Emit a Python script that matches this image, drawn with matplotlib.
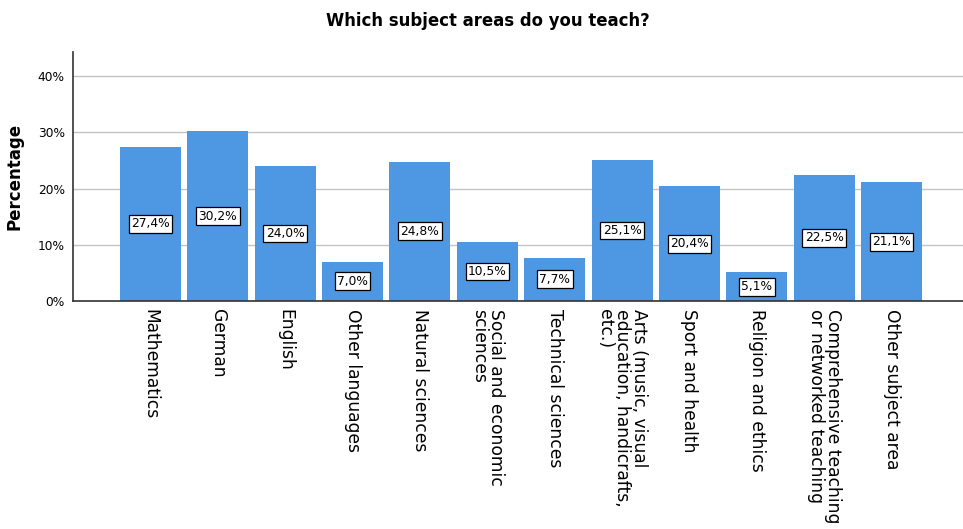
import matplotlib.pyplot as plt
import numpy as np

# Data ------------------------------------------------------------------------

subjects = [
    'Mathematics',
    'German',
    'English',
    'Other languages',
    'Natural sciences',
    'Social and economic\nsciences',
    'Technical sciences',
    'Arts (music, visual\neducation, handicrafts,\netc.)',
    'Sport and health',
    'Religion and ethics',
    'Comprehensive teaching\nor networked teaching',
    'Other subject area',
]
percent = [27.4, 30.2, 24.0, 7.0, 24.8, 10.5, 7.7, 25.1, 20.4, 5.1, 22.5, 21.1]
y_ticks = [0, 10, 20, 30, 40]

BAR_COLOR = '#4d97e3'

# Plot ------------------------------------------------------------------------

fig = plt.figure(figsize=(9.63, 5.29), dpi=100)
ax = fig.add_axes([0.0758, 0.431, 0.9242, 0.4707])

x = np.arange(len(subjects))
bars = ax.bar(x, percent, width=0.905, color=BAR_COLOR, zorder=2)

# value labels in white boxes at half bar height
for xi, val in zip(x, percent):
    ax.text(xi, val / 2, f'{val:.1f}%'.replace('.', ','),
            ha='center', va='center', fontsize=8.8, zorder=3,
            bbox=dict(boxstyle='square,pad=0.2', fc='white', ec='black', lw=0.9))

ax.set_xlim(-1.15, 12.06)
ax.set_ylim(0, 44.3)
ax.set_yticks(y_ticks)
ax.set_yticklabels([f'{t}%' for t in y_ticks], fontsize=8.8)
ax.yaxis.grid(True, color='#c4c4c4', lw=1.0, zorder=0)
ax.tick_params(axis='both', length=0, pad=6)

ax.set_xticks(x)
ax.set_xticklabels(subjects, rotation=-90, fontsize=12.3, va='top',
                   ha='center', multialignment='left', linespacing=0.95)

for side in ['top', 'right']:
    ax.spines[side].set_visible(False)
for side in ['left', 'bottom']:
    ax.spines[side].set_color('#333333')
    ax.spines[side].set_linewidth(1.2)

ax.set_ylabel('Percentage', fontsize=12, fontweight='bold', labelpad=10)
fig.text(0.507, 0.96, 'Which subject areas do you teach?', ha='center',
         va='center', fontsize=11.9, fontweight='bold')

fig.savefig('out.png', dpi=100)
